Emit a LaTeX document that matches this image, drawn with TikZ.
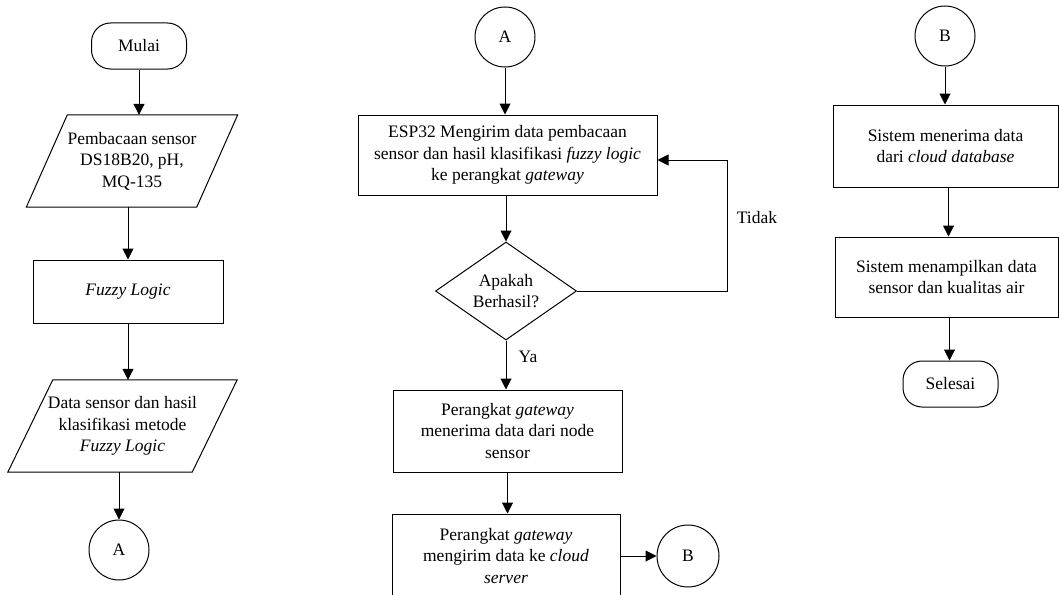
\documentclass[tikz,border=0pt]{standalone}
\usepackage{fontspec}
\setmainfont{Liberation Serif}
\usetikzlibrary{shapes.geometric,arrows.meta}
\newcommand\paraoutline[2]{\draw[line width=1pt] ([xshift=-#2]#1.south west) -- ([xshift=-#2]#1.south east) -- ([xshift=#2]#1.north east) -- ([xshift=#2]#1.north west) -- cycle;}
\tikzset{
  base/.style={font=\fontsize{17.5}{21.5}\selectfont, align=center, inner sep=0pt},
  term/.style={base, draw, line width=1pt, rectangle, rounded corners=19pt, minimum width=95pt, minimum height=46pt},
  procbox/.style={base, draw, line width=1pt, rectangle},
  parabox/.style={base},
  conn/.style={base, draw, line width=1pt, circle, minimum size=60pt},
  decis/.style={base, draw, line width=1pt, diamond, aspect=1.44, minimum width=141pt, minimum height=98pt},
  arr/.style={line width=1pt, -{Triangle[length=11pt,width=11pt]}},
  lbl/.style={font=\fontsize{17.5}{21.5}\selectfont, inner sep=0pt}
}
\begin{document}
\begin{tikzpicture}[x=1pt,y=-1pt]
\useasboundingbox (0,0) rectangle (1059,594);
% column 1
\node[term] (mulai) at (139,46) {Mulai};
\node[parabox, minimum width=170pt, minimum height=92pt] (p1) at (132,161) {Pembacaan sensor\\DS18B20, pH,\\MQ-135};
\paraoutline{p1}{20.5pt}
\node[procbox, minimum width=190pt, minimum height=63pt] (fz) at (128,291.5) {\textit{Fuzzy Logic}};
\node[parabox, minimum width=184pt, minimum height=92pt] (p2) at (122.5,426) {Data sensor dan hasil\\klasifikasi metode\\\textit{Fuzzy Logic}};
\paraoutline{p2}{22.5pt}
\node[conn] (a1) at (119,550) {A};
\draw[arr] (mulai.south) -- (mulai.south |- p1.north);
\draw[arr] (fz.north |- p1.south) -- (fz.north);
\draw[arr] (fz.south) -- (fz.south |- p2.north);
\draw[arr] (a1.north |- p2.south) -- (a1.north);
% column 2
\node[conn] (a2) at (505,37) {A};
\node[procbox, minimum width=299pt, minimum height=80pt] (esp) at (507.5,155) {ESP32 Mengirim data pembacaan\\sensor dan hasil klasifikasi \textit{fuzzy logic}\\ke perangkat \textit{gateway}};
\node[decis] (dia) at (506,291) {Apakah\\Berhasil?};
\node[procbox, minimum width=229pt, minimum height=82pt] (g1) at (507.5,431) {Perangkat \textit{gateway}\\menerima data dari node\\sensor};
\node[procbox, minimum width=228pt, minimum height=84pt] (g2) at (506,556) {Perangkat \textit{gateway}\\mengirim data ke \textit{cloud}\\\textit{server}};
\node[conn, minimum size=62pt] (b1) at (688,556) {B};
\coordinate (lp) at (727,160);
\draw[arr] (a2.south) -- (a2.south |- esp.north);
\draw[arr] (dia.north |- esp.south) -- (dia.north);
\draw[arr] (dia.east) -| (lp) -- (esp.east |- lp);
\node[lbl] (tidak) at (757,218) {Tidak};
\draw[arr] (dia.south) -- (dia.south |- g1.north);
\node[lbl] (ya) at (528,357) {Ya};
\draw[arr] (g1.south) -- (g1.south |- g2.north);
\draw[arr] (g2.east) -- (b1.west);
% column 3
\node[conn] (b2) at (945,36) {B};
\node[procbox, minimum width=225pt, minimum height=82pt] (r1) at (945.5,146) {Sistem menerima data\\dari \textit{cloud database}};
\node[procbox, minimum width=223pt, minimum height=80pt] (r2) at (946.5,277) {Sistem menampilkan data\\sensor dan kualitas air};
\node[term] (selesai) at (950.5,384) {Selesai};
\draw[arr] (b2.south) -- (b2.south |- r1.north);
\draw[arr] ([xshift=3pt]r1.south) -- ([xshift=3pt]r1.south |- r2.north);
\draw[arr] ([xshift=3pt]r2.south) -- ([xshift=3pt]r2.south |- selesai.north);
\end{tikzpicture}
\end{document}
